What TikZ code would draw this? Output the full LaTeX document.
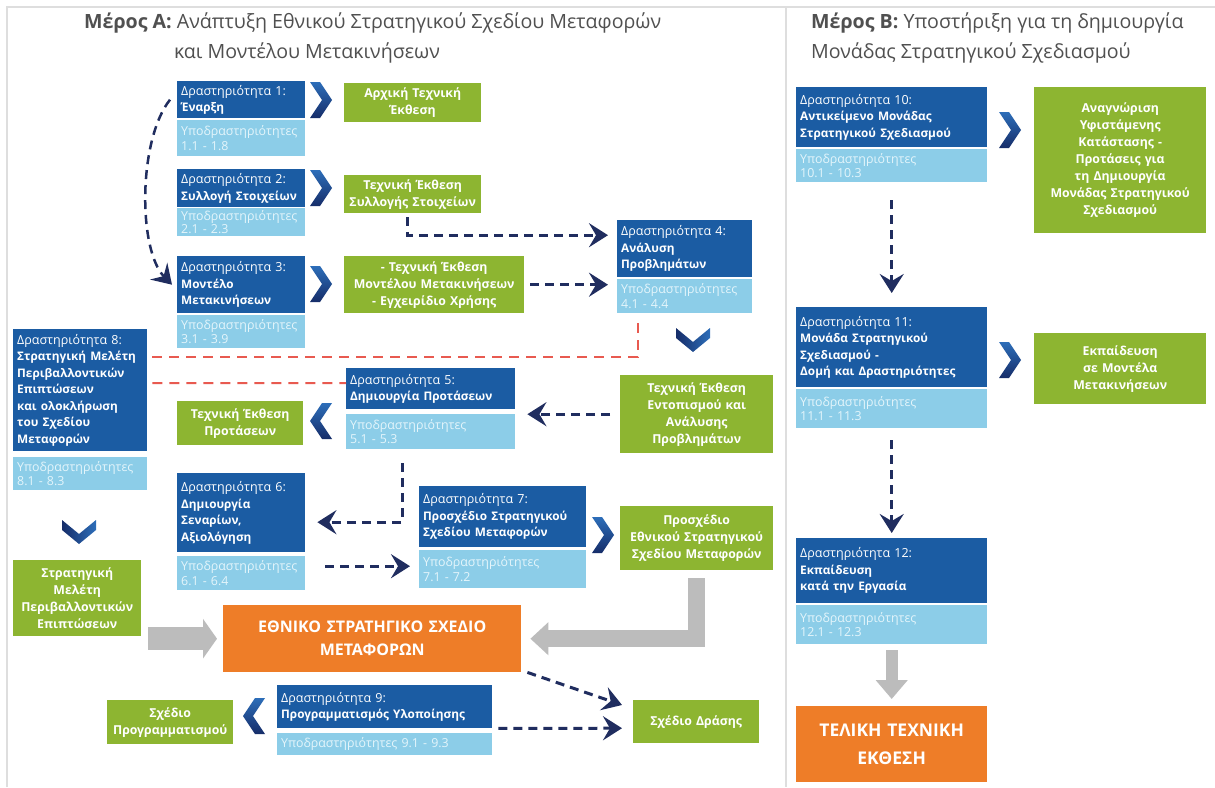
\documentclass[tikz,border=0pt]{standalone}
\usepackage{fontspec}
\setmainfont{Open Sans}
\usetikzlibrary{arrows.meta}
\definecolor{dblue}{RGB}{27,92,163}
\definecolor{lblue}{RGB}{140,205,232}
\definecolor{ltext}{RGB}{228,245,251}
\definecolor{grn}{RGB}{141,181,49}
\definecolor{orng}{RGB}{238,125,40}
\definecolor{navy}{RGB}{32,45,95}
\definecolor{redd}{RGB}{232,90,80}
\definecolor{fatgray}{RGB}{188,188,188}
\definecolor{chevl}{RGB}{45,110,185}
\definecolor{chevd}{RGB}{22,45,105}
\definecolor{ttlgray}{RGB}{80,80,80}
\definecolor{framegray}{RGB}{222,222,222}
\newcommand\bxf{\fontsize{12.5}{16.5}\selectfont}
\newcommand\bt[1]{{\fontsize{11.8}{16.5}\selectfont\bfseries #1}}
\newcommand\ltf{\fontsize{12.4}{14.5}\selectfont}
\newcommand\grf{\fontsize{12.3}{17}\selectfont\bfseries}
\newcommand\orf{\fontsize{16}{23}\selectfont\bfseries}
\newcommand\orff{\fontsize{17.5}{28}\selectfont\bfseries}
\newcommand\ttlf{\fontsize{19.6}{30}\selectfont}
\tikzset{
  dk/.style={anchor=north west, fill=dblue, text=white, align=left, inner xsep=4pt, inner ysep=1pt, font=\bxf},
  lt/.style={anchor=north west, fill=lblue, text=ltext, align=left, inner xsep=4pt, inner ysep=0pt, font=\ltf},
  gr/.style={anchor=north west, fill=grn, text=white, align=center, inner xsep=3pt, inner ysep=1pt, font=\grf},
  orbox/.style={anchor=north west, fill=orng, text=white, align=center, inner sep=2pt, font=\orf},
  ttl/.style={anchor=north west, text=ttlgray, align=left, inner sep=0pt, font=\ttlf},
  dasharrow/.style={draw=navy, line width=3pt, dash pattern=on 9pt off 6pt, -{Stealth[length=19pt,width=24pt,inset=7pt]}},
  reddash/.style={draw=redd, line width=2pt, dash pattern=on 10pt off 7pt},
  fatarrow/.style={draw=fatgray, line join=miter},
  framel/.style={draw=framegray, line width=2pt},
  chevr/.pic={\shade[top color=chevl, bottom color=chevd] (0,0) -- (10,0) -- (22,18) -- (10,36) -- (0,36) -- (12,18) -- cycle;},
  chevdown/.pic={\shade[left color=chevd, right color=chevl] (0,0) -- (17,14) -- (34,0) -- (34,10) -- (17,24) -- (0,10) -- cycle;}
}
\begin{document}
\begin{tikzpicture}[x=1pt,y=-1pt]
\useasboundingbox (0,0) rectangle (1215,787);
\fill[white] (0,0) rectangle (1215,787);
% frame
\draw[framel] (7,787) -- (7,7) -- (1215,7);
\draw[framel] (786,7) -- (786,787);

% titles
\node[ttl] (ta) at (84,12) {\textbf{Μέρος Α:} Ανάπτυξη Εθνικού Στρατηγικού Σχεδίου Μεταφορών\\\hspace*{90pt}και Μοντέλου Μετακινήσεων};
\node[ttl] (tb) at (811,12) {\textbf{Μέρος Β:} Υποστήριξη για τη δημιουργία\\Μονάδας Στρατηγικού Σχεδιασμού};

% activity boxes
\node[dk, text width=120pt, minimum height=37pt] (a1) at (177,81) {Δραστηριότητα 1:\\\bt{Έναρξη}};
\node[lt, text width=120pt, minimum height=36pt] (a1l) at (177,120) {Υποδραστηριότητες\\1.1 - 1.8};
\node[dk, text width=120pt, minimum height=38pt] (a2) at (177,169) {Δραστηριότητα 2:\\\bt{Συλλογή Στοιχείων}};
\node[lt, text width=120pt, minimum height=28pt, font=\fontsize{12.4}{13}\selectfont] (a2l) at (177,208) {Υποδραστηριότητες\\2.1 - 2.3};
\node[dk, text width=120pt, minimum height=57pt] (a3) at (177,256) {Δραστηριότητα 3:\\\bt{Μοντέλο}\\\bt{Μετακινήσεων}};
\node[lt, text width=120pt, minimum height=33pt] (a3l) at (177,315) {Υποδραστηριότητες\\3.1 - 3.9};
\node[dk, text width=127pt, minimum height=57pt] (a4) at (617,220) {Δραστηριότητα 4:\\\bt{Ανάλυση}\\\bt{Προβλημάτων}};
\node[lt, text width=127pt, minimum height=34pt] (a4l) at (617,279) {Υποδραστηριότητες\\4.1 - 4.4};
\node[dk, text width=161pt, minimum height=41pt] (a5) at (346,368) {Δραστηριότητα 5:\\\bt{Δημιουργία Προτάσεων}};
\node[lt, text width=161pt, minimum height=35pt] (a5l) at (346,414) {Υποδραστηριότητες\\5.1 - 5.3};
\node[dk, text width=120pt, minimum height=79pt] (a6) at (177,473) {Δραστηριότητα 6:\\\bt{Δημιουργία}\\\bt{Σεναρίων,}\\\bt{Αξιολόγηση}};
\node[lt, text width=120pt, minimum height=34pt] (a6l) at (177,556) {Υποδραστηριότητες\\6.1 - 6.4};
\node[dk, text width=159pt, minimum height=61pt] (a7) at (419,486) {Δραστηριότητα 7:\\\bt{Προσχέδιο Στρατηγικού}\\\bt{Σχεδίου Μεταφορών}};
\node[lt, text width=159pt, minimum height=38pt] (a7l) at (419,550) {Υποδραστηριότητες\\7.1 - 7.2};
\node[dk, text width=126pt, minimum height=122pt] (a8) at (13,329) {Δραστηριότητα 8:\\\bt{Στρατηγική Μελέτη}\\\bt{Περιβαλλοντικών}\\\bt{Επιπτώσεων}\\\bt{και ολοκλήρωση}\\\bt{του Σχεδίου}\\\bt{Μεταφορών}};
\node[lt, text width=126pt, minimum height=33pt] (a8l) at (13,457) {Υποδραστηριότητες\\8.1 - 8.3};
\node[dk, text width=207pt, minimum height=43pt] (a9) at (277,685) {Δραστηριότητα 9:\\\bt{Προγραμματισμός Υλοποίησης}};
\node[lt, text width=207pt, minimum height=22pt] (a9l) at (277,733) {Υποδραστηριότητες 9.1 - 9.3};
\node[dk, text width=183pt, minimum height=60pt] (a10) at (796,87) {Δραστηριότητα 10:\\\bt{Αντικείμενο Μονάδας}\\\bt{Στρατηγικού Σχεδιασμού}};
\node[lt, text width=183pt, minimum height=33pt] (a10l) at (796,149) {Υποδραστηριότητες\\10.1 - 10.3};
\node[dk, text width=183pt, minimum height=80pt] (a11) at (796,307) {Δραστηριότητα 11:\\\bt{Μονάδα Στρατηγικού}\\\bt{Σχεδιασμού -}\\\bt{Δομή και Δραστηριότητες}};
\node[lt, text width=183pt, minimum height=39pt] (a11l) at (796,389) {Υποδραστηριότητες\\11.1 - 11.3};
\node[dk, text width=183pt, minimum height=65pt] (a12) at (796,538) {Δραστηριότητα 12:\\\bt{Εκπαίδευση}\\\bt{κατά την Εργασία}};
\node[lt, text width=183pt, minimum height=39pt] (a12l) at (796,605) {Υποδραστηριότητες\\12.1 - 12.3};

% green outputs
\node[gr, text width=131pt, minimum height=39pt] (g1) at (344,83) {Αρχική Τεχνική\\Έκθεση};
\node[gr, text width=131pt, minimum height=38pt] (g2) at (344,175) {Τεχνική Έκθεση\\Συλλογής Στοιχείων};
\node[gr, text width=174pt, minimum height=57pt] (g3) at (344,256) {- Τεχνική Έκθεση\\Μοντέλου Μετακινήσεων\\- Εγχειρίδιο Χρήσης};
\node[gr, text width=147pt, minimum height=78pt] (g4) at (620,375) {Τεχνική Έκθεση\\Εντοπισμού και\\Ανάλυσης\\Προβλημάτων};
\node[gr, text width=120pt, minimum height=44pt] (g5) at (177,401) {Τεχνική Έκθεση\\Προτάσεων};
\node[gr, text width=122pt, minimum height=76pt] (g6) at (13,560) {Στρατηγική\\Μελέτη\\Περιβαλλοντικών\\Επιπτώσεων};
\node[gr, text width=147pt, minimum height=64pt] (g7) at (620,506) {Προσχέδιο\\Εθνικού Στρατηγικού\\Σχεδίου Μεταφορών};
\node[gr, text width=120pt, minimum height=44pt] (g8) at (107,700) {Σχέδιο\\Προγραμματισμού};
\node[gr, text width=120pt, minimum height=43pt] (g9) at (633,700) {Σχέδιο Δράσης};
\node[gr, text width=166pt, minimum height=146pt] (g10) at (1034,87) {Αναγνώριση\\Υφιστάμενης\\Κατάστασης -\\Προτάσεις για\\τη Δημιουργία\\Μονάδας Στρατηγικού\\Σχεδιασμού};
\node[gr, text width=166pt, minimum height=71pt] (g11) at (1034,333) {Εκπαίδευση\\σε Μοντέλα\\Μετακινήσεων};

% orange results
\node[orbox, text width=294pt, minimum height=67pt] (o1) at (223,605) {ΕΘΝΙΚΟ ΣΤΡΑΤΗΓΙΚΟ ΣΧΕΔΙΟ\\ΜΕΤΑΦΟΡΩΝ};
\node[orbox, text width=187pt, minimum height=76pt, font=\orff] (o2) at (796,706) {ΤΕΛΙΚΗ ΤΕΧΝΙΚΗ\\ΕΚΘΕΣΗ};

% chevrons
\pic at (310,82) {chevr};
\pic at (310,170) {chevr};
\pic at (310,266) {chevr};
\pic at (592,517) {chevr};
\pic at (999,112) {chevr};
\pic at (999,342) {chevr};
\pic[xscale=-1] at (332,403) {chevr};
\pic[xscale=-1] at (265,698) {chevr};
\pic at (676,328) {chevdown};
\pic at (62,520) {chevdown};

% red dashed links
\draw[reddash] ([xshift=5pt,yshift=-28pt]a8.north east) -| ([xshift=-46.5pt,yshift=-5pt]a4l.south);
\draw[reddash] ([xshift=5pt,yshift=-54pt]a8.north east) -- ([yshift=5.5pt]a5.west);

% dashed arrows
\draw[dasharrow, line width=2.5pt] ([xshift=-7pt]a1.west) .. controls (138,140) and (138,250) .. ([xshift=-5pt]a3.west);
\draw[dasharrow, shorten <=4pt, shorten >=9pt] ([xshift=-5.5pt]g2.south) |- ([yshift=13.5pt]a4.west);
\draw[dasharrow, shorten <=6pt, shorten >=9pt] (g3.east) -- (g3.east -| a4l.west);
\draw[dasharrow, shorten <=10pt, shorten >=12pt] (g4.west) -- (g4.west -| a5l.east);
\draw[dasharrow, shorten <=14pt, shorten >=12pt] ([xshift=-28.5pt]a5l.south) |- ([yshift=-9.5pt]a6.east);
\draw[dasharrow, shorten <=20pt, shorten >=9pt] ([yshift=7pt]a6l.east) -- ([yshift=3pt]a7l.west);
\draw[dasharrow] ([xshift=6pt]o1.south east) -- ([xshift=-11pt,yshift=-5pt]g9.north west);
\draw[dasharrow] ([xshift=6pt]a9.south east) -- ([xshift=-11pt,yshift=-6.5pt]g9.west);
\draw[dasharrow, shorten <=18pt, shorten >=14pt] (a10l.south) -- (a11.north);
\draw[dasharrow, shorten <=12pt, shorten >=5pt] (a11l.south) -- (a12.north);

% fat gray arrows
\draw[fatarrow, line width=23pt, -{Triangle[length=14pt,width=39pt]}, shorten <=7pt, shorten >=6pt] (o1.west -| g6.east) -- (o1.west);
\draw[fatarrow, line width=17pt, -{Triangle[length=18pt,width=32pt]}, shorten <=8pt, shorten >=9pt] (g7.south) |- (o1.east);
\draw[fatarrow, line width=12pt, -{Triangle[length=19pt,width=31pt]}, shorten <=6pt, shorten >=7pt] (a12l.south) -- (o2.north);
\end{tikzpicture}
\end{document}
